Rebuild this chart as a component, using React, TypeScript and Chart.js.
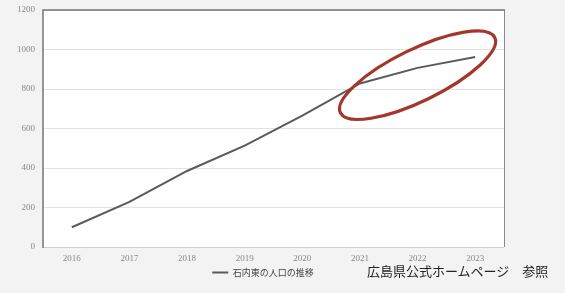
import React, { useEffect, useRef } from "react";
import { Chart, registerables } from "chart.js";

Chart.register(...registerables);

const years = ["2016", "2017", "2018", "2019", "2020", "2021", "2022", "2023"];
const population = [100, 228, 385, 513, 665, 828, 907, 962];
const yTicks = [0, 200, 400, 600, 800, 1000, 1200];
const seriesLabel = "石内東の人口の推移";
const sourceNote = "広島県公式ホームページ　参照";
const highlightCategory = "2022";
const highlightValue = 870;

const plotFramePlugin = {
  id: "plotFrame",
  afterLayout(chart: any) {
    const lg = chart.legend;
    if (lg) {
      lg.left += 11;
      lg.right += 11;
    }
  },
  beforeDraw(chart: any) {
    const { ctx, chartArea } = chart;
    ctx.save();
    ctx.fillStyle = "#ffffff";
    ctx.fillRect(chartArea.left, chartArea.top, chartArea.right - chartArea.left, chartArea.bottom - chartArea.top);
    ctx.restore();
  },
  afterDatasetsDraw(chart: any) {
    const { ctx, chartArea, scales } = chart;
    const { left, right, top, bottom } = chartArea;
    ctx.save();
    ctx.strokeStyle = "#cfcfcf";
    ctx.lineWidth = 1;
    ctx.beginPath();
    ctx.moveTo(left, bottom + 0.5);
    ctx.lineTo(right, bottom + 0.5);
    ctx.stroke();
    ctx.strokeStyle = "#8a8a8a";
    ctx.beginPath();
    ctx.moveTo(right + 0.5, top);
    ctx.lineTo(right + 0.5, bottom);
    ctx.stroke();
    ctx.strokeStyle = "#777777";
    ctx.lineWidth = 1.5;
    ctx.beginPath();
    ctx.moveTo(left, bottom + 1);
    ctx.lineTo(left, top);
    ctx.lineTo(right + 1, top);
    ctx.stroke();

    const xs = scales.x;
    const ys = scales.y;
    const idx = years.indexOf(highlightCategory);
    const cx = xs.getPixelForValue(idx);
    const cy = ys.getPixelForValue(highlightValue);
    const cat = (right - left) / years.length;
    ctx.strokeStyle = "#a3372c";
    ctx.lineWidth = 3.2;
    ctx.beginPath();
    ctx.ellipse(cx, cy, cat * 1.49, cat * 0.45, (-26 * Math.PI) / 180, 0, Math.PI * 2);
    ctx.stroke();
    ctx.restore();
  },
};

export default function App() {
  const ref = useRef<HTMLCanvasElement | null>(null);

  useEffect(() => {
    if (!ref.current) return;
    const chart = new Chart(ref.current, {
      type: "line",
      data: {
        labels: years,
        datasets: [
          {
            label: seriesLabel,
            data: population,
            borderColor: "#5a5a5a",
            backgroundColor: "#5a5a5a",
            borderWidth: 2,
            pointRadius: 0,
            tension: 0,
          },
        ],
      },
      options: {
        animation: false,
        responsive: false,
        maintainAspectRatio: false,
        layout: { autoPadding: false, padding: { top: 10, right: 61, left: 0, bottom: 6 } },
        plugins: {
          tooltip: { enabled: false },
          legend: {
            position: "bottom",
            labels: {
              usePointStyle: true,
              pointStyle: "line",
              pointStyleWidth: 16,
              boxHeight: 9,
              padding: 3,
              color: "#444444",
              font: { family: "'Noto Sans CJK JP', serif", size: 9 },
            },
          },
        },
        scales: {
          x: {
            offset: true,
            grid: { display: false, drawTicks: false },
            border: { display: false },
            ticks: {
              color: "#888888",
              padding: 6,
              font: { family: "'Liberation Serif', serif", size: 9 },
              maxRotation: 0,
            },
            afterFit(scale: any) {
              scale.height = 18;
            },
          },
          y: {
            min: 0,
            max: 1200,
            afterBuildTicks(scale: any) {
              scale.ticks = yTicks.map((v) => ({ value: v }));
            },
            grid: { color: "#e3e3e3", drawTicks: false, lineWidth: 1 },
            border: { display: false },
            ticks: {
              color: "#888888",
              padding: 8,
              font: { family: "'Liberation Serif', serif", size: 9 },
              callback: (v: any) => String(v),
            },
            afterFit(scale: any) {
              scale.width = 43;
              scale.paddingTop = 0;
              scale.paddingBottom = 0;
            },
          },
        },
      },
      plugins: [plotFramePlugin],
    });
    return () => chart.destroy();
  }, []);

  return (
    <div
      style={{
        position: "fixed",
        left: 0,
        top: 0,
        width: 565,
        height: 293,
        background: "#f3f3f3",
      }}
    >
      <canvas ref={ref} width={565} height={293} style={{ display: "block" }} />
      <div
        style={{
          position: "absolute",
          left: 367,
          top: 263,
          fontFamily: "'Noto Sans CJK JP', sans-serif",
          fontSize: 13,
          lineHeight: "16px",
          color: "#222222",
          whiteSpace: "pre",
        }}
      >
        {sourceNote}
      </div>
    </div>
  );
}
